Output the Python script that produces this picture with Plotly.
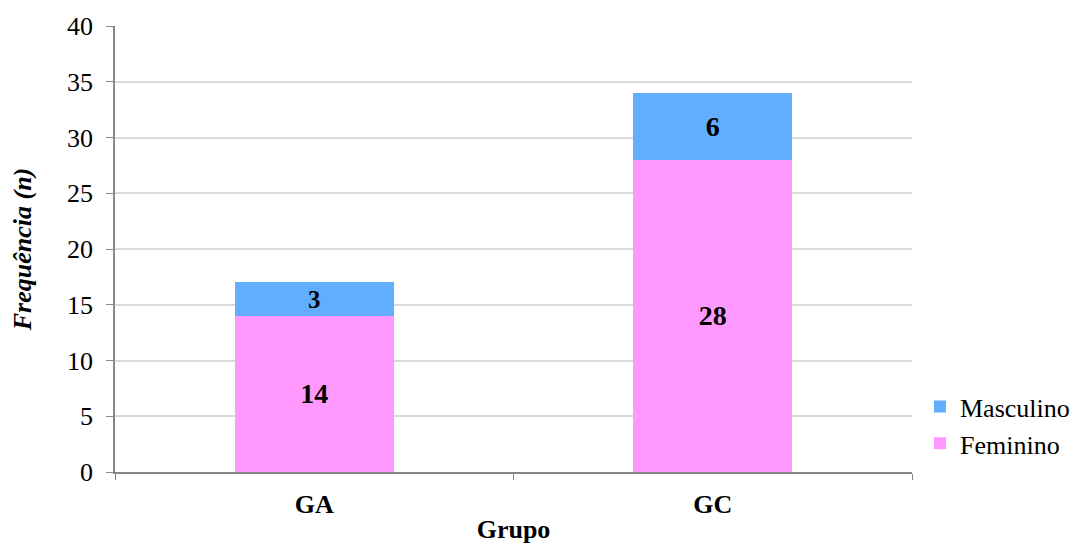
import plotly.graph_objects as go

grupos = ["GA", "GC"]
feminino = [14, 28]
masculino = [3, 6]

FONT = "Liberation Serif"
BASE = dict(family=FONT, size=26, color="black")

fig = go.Figure()
fig.add_trace(go.Bar(
    x=grupos, y=feminino, name="Feminino",
    marker=dict(color="#FF99FF", line=dict(width=0)),
    text=feminino, texttemplate="<b>%{text}</b>",
    textposition="inside", insidetextanchor="middle", textangle=0,
    textfont=dict(family=FONT, size=28, color="black"),
))
fig.add_trace(go.Bar(
    x=grupos, y=masculino, name="Masculino",
    marker=dict(color="#61AEFF", line=dict(width=0)),
    text=masculino, texttemplate="<b>%{text}</b>",
    textposition="inside", insidetextanchor="middle", textangle=0,
    textfont=dict(family=FONT, size=28, color="black"),
))

fig.update_layout(
    width=1071, height=545,
    margin=dict(l=115, r=159, t=26, b=73, autoexpand=False),
    barmode="stack", bargap=0.6,
    plot_bgcolor="white",
    font=BASE,
    showlegend=True,
    legend=dict(traceorder="reversed", x=1.01, xanchor="left", y=0.105, yanchor="middle", font=BASE),
    xaxis=dict(
        type="category", showline=True, linecolor="#868686", linewidth=1.5,
        ticks="outside", tickson="boundaries", ticklen=6, tickcolor="#868686",
        tickvals=grupos, ticktext=["<b>GA</b>", "<b>GC</b>"],
        ticklabelstandoff=8,
        title=dict(text="<b>Grupo</b>", standoff=2, font=BASE),
        showgrid=False,
    ),
    yaxis=dict(
        range=[0, 40], dtick=5, showline=True, linecolor="#868686", linewidth=1.5,
        ticks="outside", ticklen=7, tickcolor="#868686",
        showgrid=True, gridcolor="#D9D9D9", gridwidth=1.5,
        tickfont=BASE, ticklabelstandoff=8,
        title=dict(text="<b><i>Frequência (n)</i></b>", standoff=28, font=BASE),
        zeroline=False,
    ),
)

fig.write_html("out.html")
